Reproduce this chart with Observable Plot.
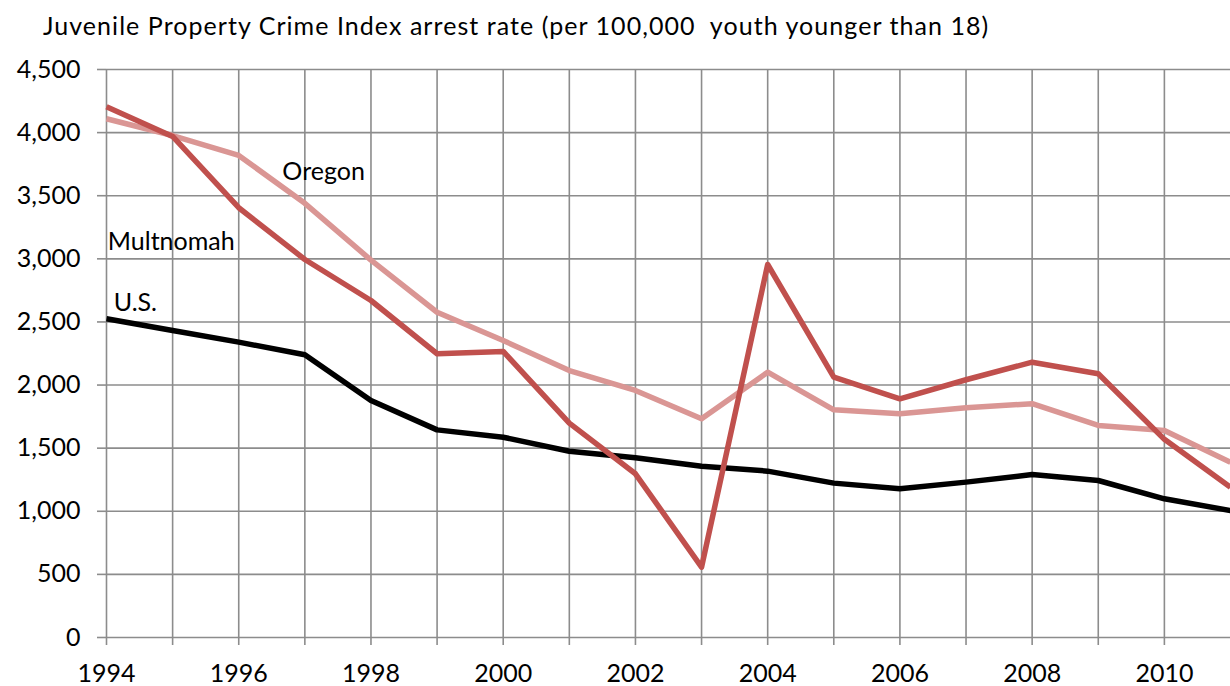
<!DOCTYPE html>
<html>
<head>
<meta charset="utf-8">
<script src="https://cdn.jsdelivr.net/npm/d3@7"></script>
<script src="https://cdn.jsdelivr.net/npm/@observablehq/plot@0.6"></script>
<style>
  body { margin: 0; background: #fff; font-family: Lato, "Open Sans", sans-serif; }
  #title {
    height: 50px; box-sizing: border-box; padding: 10px 0 0 43px;
    font-size: 25px; line-height: 30px; letter-spacing: 1.05px; white-space: pre; color: #000;
  }
  #chart svg { display: block; }
</style>
</head>
<body>
<div id="title">Juvenile Property Crime Index arrest rate (per 100,000  youth younger than 18)</div>
<div id="chart"></div>
<script>
// Juvenile Property Crime Index arrest rates, per 100,000 youth under 18
const years     = [1994, 1995, 1996, 1997, 1998, 1999, 2000, 2001, 2002, 2003, 2004, 2005, 2006, 2007, 2008, 2009, 2010, 2011];
const multnomah = [4205, 3970, 3405, 2995, 2670, 2248, 2266, 1698, 1297,  557, 2955, 2063, 1891, 2042, 2181, 2089, 1570, 1191];
const oregon    = [4110, 3977, 3819, 3440, 2990, 2577, 2353, 2115, 1957, 1733, 2102, 1804, 1772, 1820, 1852, 1680, 1640, 1389];
const us        = [2525, 2432, 2340, 2240, 1878, 1645, 1587, 1476, 1424, 1357, 1318, 1223, 1178, 1231, 1291, 1244, 1099, 1006];

const seriesNames  = ["Multnomah", "Oregon", "U.S."];
const seriesColors = ["#C0504D", "#DA9694", "#000000"];
const yTicks = [0, 500, 1000, 1500, 2000, 2500, 3000, 3500, 4000, 4500];
const gridYears = years.filter(y => y <= 2010);

const rows = years.flatMap((year, i) => [
  {year, value: oregon[i], series: "Oregon"},
  {year, value: us[i], series: "U.S."},
  {year, value: multnomah[i], series: "Multnomah"}
]);

// Series name labels placed beside the lines
const labels = [
  {text: "Oregon",    year: 1996.66, value: 3684},
  {text: "Multnomah", year: 1994.02, value: 3130},
  {text: "U.S.",      year: 1994.11, value: 2654}
];

const GRID = "#8c8c8c";
const FONT = 25;

const chart = Plot.plot({
  width: 1230,
  height: 636,
  marginTop: 19,
  marginBottom: 49,
  marginLeft: 106,
  marginRight: 0,
  style: {fontFamily: "Lato, 'Open Sans', sans-serif", fontSize: FONT + "px", color: "#000", background: "#fff"},
  x: {domain: [1994, 2011]},
  y: {domain: [0, 4500]},
  color: {domain: seriesNames, range: seriesColors},
  marks: [
    Plot.gridY(yTicks, {stroke: GRID, strokeOpacity: 1, strokeWidth: 1.6}),
    Plot.gridX(gridYears, {stroke: GRID, strokeOpacity: 1, strokeWidth: 1.6}),
    Plot.axisY({
      ticks: yTicks, tickSize: 9, tickPadding: 17, label: null,
      tickFormat: d3.format(","), stroke: GRID, strokeWidth: 1.6, fill: "#000", fontSize: FONT
    }),
    Plot.axisX({
      ticks: gridYears, tickSize: 8, tickPadding: 19, label: null,
      tickFormat: d => (d % 2 === 0 ? String(d) : ""), stroke: GRID, strokeWidth: 1.6, fill: "#000", fontSize: FONT
    }),
    Plot.line(rows, {
      x: "year", y: "value", z: "series", stroke: "series",
      strokeWidth: 5.5, strokeLinejoin: "round", strokeLinecap: "butt"
    }),
    Plot.text(labels, {
      x: "year", y: "value", text: "text", textAnchor: "start", fontSize: FONT, fill: "#000"
    })
  ]
});

document.getElementById("chart").appendChild(chart);
</script>
</body>
</html>
